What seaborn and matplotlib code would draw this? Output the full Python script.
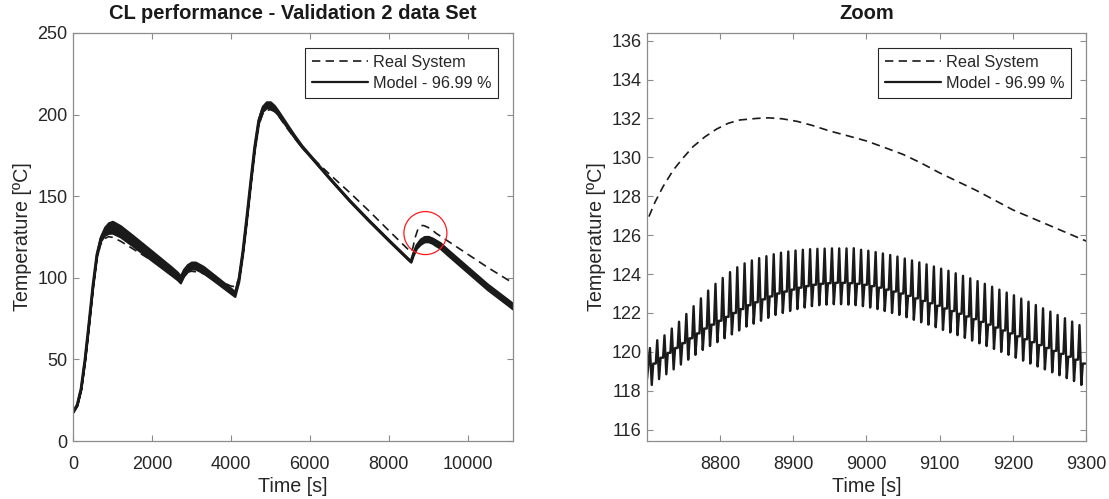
import numpy as np
import pandas as pd
import matplotlib
matplotlib.use("Agg")
import matplotlib.pyplot as plt
from matplotlib.lines import Line2D
from matplotlib.patches import Ellipse
import seaborn as sns

# ---------------- data ----------------
# Real System: measured temperature [ºC] over time [s]
real_time = [0, 100, 200, 300, 400, 500, 600, 700, 800, 900,
             1000, 1200, 1500, 2000, 2500, 2700, 2800, 2900, 3000, 3200,
             3500, 4000, 4100, 4200, 4300, 4400, 4500, 4600, 4700, 4800,
             4900, 5000, 5100, 5200, 5400, 5600, 5800, 6000, 6500, 7000,
             7500, 8000, 8500, 8580, 8620, 8660, 8702, 8711, 8722, 8736,
             8750, 8763, 8779, 8795, 8811, 8827, 8850, 8866, 8885, 8905,
             8925, 8950, 8975, 9000, 9025, 9050, 9075, 9100, 9150, 9200,
             9250, 9300, 9500, 10000, 10500, 11000, 11150]
real_temp = [18, 22, 32, 50, 72, 94, 112, 120.5, 124, 125.2,
             124.8, 122.5, 118, 110.5, 103, 100.5, 102, 103.5, 104, 103.5,
             100.5, 95, 94.5, 99, 113, 133, 156, 178, 193, 200,
             202.5, 203, 202, 199.5, 192.5, 186, 180, 175, 163.5, 152.5,
             141, 129, 117.2, 116, 119, 124, 126.9, 127.7, 128.5, 129.35,
             130.0, 130.55, 131.05, 131.45, 131.75, 131.92, 132.0, 132.03, 131.98, 131.85,
             131.65, 131.35, 131.1, 130.84, 130.5, 130.15, 129.7, 129.2, 128.3, 127.3,
             126.5, 125.7, 122.5, 114.5, 106.5, 99, 97]

# Model (full run): centre of the oscillating trace and its half band width
model_time = [0, 100, 200, 300, 400, 500, 600, 700, 800, 900,
              1000, 1200, 1500, 2000, 2500, 2650, 2720, 2800, 2900, 3000,
              3100, 3300, 3600, 4000, 4100, 4200, 4300, 4400, 4500, 4600,
              4700, 4800, 4900, 5000, 5100, 5200, 5400, 5600, 5800, 6000,
              6500, 7000, 7500, 8000, 8500, 8560, 8620, 8700, 8800, 8900,
              9000, 9100, 9200, 9300, 9500, 10000, 10500, 11000, 11150]
model_center = [18, 22, 32, 50, 72, 95, 114, 124, 128.5, 130.5,
                131, 128.5, 123, 113.5, 104, 101, 99, 103, 106, 107.5,
                107.5, 105, 99.5, 92, 90, 99, 116, 137, 159, 180,
                196, 203.5, 206, 206, 204, 201, 194, 187, 180.5, 175,
                161, 147.5, 135, 123, 111.3, 110, 114.5, 119.2, 122.1, 123.65,
                123.75, 122.8, 121.3, 119.85, 115.5, 105, 94.5, 85.3, 82.5]
model_half = [0.3, 0.3, 0.3, 0.3, 0.4, 0.5, 0.8, 1.4, 2.4, 3.2,
              3.6, 3.4, 3.2, 2.9, 2.5, 2.3, 2.1, 2.1, 2.1, 2.1,
              2.1, 2.0, 1.8, 1.6, 1.4, 1.2, 1.0, 1.0, 1.0, 1.1,
              1.3, 1.6, 1.8, 1.8, 1.6, 1.3, 1.0, 0.8, 0.6, 0.5,
              0.4, 0.4, 0.4, 0.4, 0.4, 0.4, 0.7, 1.2, 1.6, 1.6,
              1.6, 1.6, 1.7, 1.7, 1.7, 1.7, 1.7, 1.7, 1.7]

# Model (zoom window): one peak / trough / shoulder per oscillation cycle
zoom_start_time = 8700
zoom_start_temp = 118.6
peak_time = [8704.0, 8714.0, 8723.9, 8733.9, 8743.8, 8753.8, 8763.7, 8773.7, 8783.6, 8793.6,
             8803.5, 8813.5, 8823.4, 8833.4, 8843.3, 8853.3, 8863.2, 8873.2, 8883.1, 8893.1,
             8903.0, 8913.0, 8922.9, 8932.9, 8942.8, 8952.8, 8962.7, 8972.7, 8982.6, 8992.6,
             9002.5, 9012.5, 9022.4, 9032.4, 9042.3, 9052.3, 9062.2, 9072.2, 9082.1, 9092.1,
             9102.0, 9112.0, 9121.9, 9131.9, 9141.8, 9151.8, 9161.7, 9171.7, 9181.6, 9191.6,
             9201.5, 9211.5, 9221.4, 9231.4, 9241.3, 9251.3, 9261.2, 9271.2, 9281.1, 9291.1]
peak_temp = [120.2, 120.6, 120.85, 121.2, 121.55, 121.95, 122.35, 122.75, 123.15, 123.5,
             123.8, 124.1, 124.35, 124.55, 124.7, 124.82, 124.92, 125.02, 125.1, 125.16,
             125.21, 125.25, 125.28, 125.3, 125.31, 125.32, 125.32, 125.32, 125.33, 125.25,
             125.2, 125.13, 125.06, 124.98, 124.9, 124.8, 124.7, 124.6, 124.5, 124.39,
             124.28, 124.17, 124.04, 123.91, 123.78, 123.64, 123.5, 123.35, 123.2, 123.05,
             122.91, 122.74, 122.58, 122.41, 122.24, 122.07, 121.9, 121.73, 121.56, 121.38]
trough_temp = [118.3, 118.6, 118.85, 119.1, 119.35, 119.6, 119.85, 120.1, 120.3, 120.5,
               120.7, 120.9, 121.1, 121.3, 121.45, 121.6, 121.75, 121.9, 122.0, 122.1,
               122.2, 122.28, 122.35, 122.4, 122.43, 122.45, 122.45, 122.43, 122.4, 122.35,
               122.28, 122.2, 122.1, 122.0, 121.9, 121.78, 121.65, 121.52, 121.4, 121.27,
               121.13, 121.0, 120.86, 120.72, 120.58, 120.44, 120.3, 120.15, 120.0, 119.85,
               119.7, 119.55, 119.4, 119.25, 119.1, 118.95, 118.8, 118.65, 118.5, 118.3]
shoulder_temp = [119.4, 119.7, 119.95, 120.2, 120.45, 120.7, 120.95, 121.2, 121.4, 121.6,
                 121.8, 122.0, 122.2, 122.4, 122.55, 122.7, 122.85, 123.0, 123.1, 123.2,
                 123.3, 123.38, 123.45, 123.5, 123.53, 123.55, 123.55, 123.53, 123.5, 123.45,
                 123.38, 123.3, 123.2, 123.1, 123.0, 122.88, 122.75, 122.62, 122.5, 122.37,
                 122.23, 122.1, 121.96, 121.82, 121.68, 121.54, 121.4, 121.25, 121.1, 120.95,
                 120.8, 120.65, 120.5, 120.35, 120.2, 120.05, 119.9, 119.75, 119.6, 119.4]

left_xticks = [0, 2000, 4000, 6000, 8000, 10000]
left_yticks = [0, 50, 100, 150, 200, 250]
zoom_xticks = [8800, 8900, 9000, 9100, 9200, 9300]
zoom_yticks = [116, 118, 120, 122, 124, 126, 128, 130, 132, 134, 136]

label_real = "Real System"
label_model = "Model - 96.99 %"

# ---------------- style ----------------
sns.set_theme(style="white")
plt.rcParams["font.family"] = ["Liberation Sans", "DejaVu Sans"]
TXT = "#262626"
SPINE = "#8c8c8c"

fig = plt.figure(figsize=(11.09, 4.99), dpi=100)
ax1 = fig.add_axes([73 / 1109, 1 - 441 / 499, 440 / 1109, 408 / 499])
ax2 = fig.add_axes([647 / 1109, 1 - 441 / 499, 439 / 1109, 408 / 499])

# build the zoom-window model trace from the per-cycle readings
# (spike to the peak, fast drop to the trough, jump back to the shoulder,
#  which is held until the next spike)
offs = (2.5, 4.5, 8.0)
zt, zv = [zoom_start_time], [zoom_start_temp]
for t, p, tr, sh in zip(peak_time, peak_temp, trough_temp, shoulder_temp):
    zt += [t, t + offs[0], t + offs[1], t + offs[2]]
    zv += [p, tr, sh, sh]
zoom_df = pd.DataFrame({"t": zt, "T": zv})
real_df = pd.DataFrame({"t": real_time, "T": real_temp})
mc = np.array(model_center)
mh = np.array(model_half)
model_df = pd.DataFrame({"t": model_time, "T": mc})

# ---- left panel ----
ax1.fill_between(model_time, mc - mh, mc + mh, color="k", lw=1.6)
sns.lineplot(data=model_df, x="t", y="T", ax=ax1, color="k", lw=1.8,
             estimator=None, sort=False, legend=False)
sns.lineplot(data=real_df, x="t", y="T", ax=ax1, color="#1a1a1a", lw=1.2,
             linestyle="--", estimator=None, sort=False, legend=False)
ax1.lines[-1].set_dashes((5, 3.2))

ax1.set_xlim(0, 11150)
ax1.set_ylim(0, 250)
ax1.set_xticks(left_xticks)
ax1.set_yticks(left_yticks)
ax1.set_title("CL performance - Validation 2 data Set", fontsize=14.5,
              fontweight="bold", color="k", pad=10)

# red highlight circle around the zoomed region
circ_center = (8930, 127.4)
circ_px = 43.0
w_data = circ_px * (11150 - 0) / 440
h_data = circ_px * (250 - 0) / 408
ax1.add_patch(Ellipse(circ_center, w_data, h_data, fill=False,
                      edgecolor="#ff1a1a", lw=0.9, zorder=5))

# ---- right panel ----
sns.lineplot(data=real_df, x="t", y="T", ax=ax2, color="#1a1a1a", lw=1.2,
             linestyle="--", estimator=None, sort=False, legend=False)
ax2.lines[-1].set_dashes((5, 3.2))
sns.lineplot(data=zoom_df, x="t", y="T", ax=ax2, color="k", lw=1.7,
             estimator=None, sort=False, legend=False)
ax2.set_xlim(8700, 9300)
ax2.set_ylim(115.42, 136.39)
ax2.set_xticks(zoom_xticks)
ax2.set_yticks(zoom_yticks)
ax2.set_title("Zoom", fontsize=14.5, fontweight="bold", color="k", pad=10)

for ax in (ax1, ax2):
    ax.set_xlabel("Time [s]", fontsize=14.2, color=TXT, labelpad=3)
    ax.set_ylabel("Temperature [ºC]", fontsize=14.2, color=TXT, labelpad=4)
    ax.tick_params(direction="in", length=4.5, width=0.8, colors=SPINE,
                   labelcolor=TXT, labelsize=13, top=True, right=True,
                   bottom=True, left=True)
    ax.tick_params(axis="x", pad=11)
    ax.tick_params(axis="y", pad=4)
    for s in ax.spines.values():
        s.set_color(SPINE)
        s.set_linewidth(0.9)
    ax.grid(False)
    handles = [Line2D([], [], color="k", lw=1.2, dashes=(5, 3.2)),
               Line2D([], [], color="k", lw=1.6)]
    leg = ax.legend(handles, [label_real, label_model], loc="upper right",
                    fontsize=11.7, frameon=True, fancybox=False, framealpha=1,
                    edgecolor=TXT, borderaxespad=0.9, handlelength=3.4,
                    handletextpad=0.3, borderpad=0.45, labelspacing=0.35)
    leg.get_frame().set_linewidth(0.8)
    for t in leg.get_texts():
        t.set_color(TXT)

fig.savefig("out.png", dpi=100)
